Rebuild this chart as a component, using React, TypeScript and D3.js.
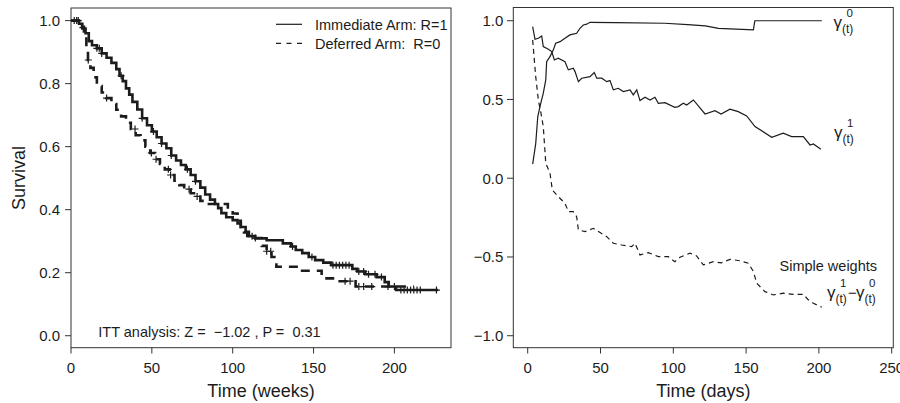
import React from "react";
import * as d3 from "d3";

// ---------- Left panel data: Kaplan-Meier curves (weeks) ----------
const immTime = [0, 5, 7, 9, 11, 13, 16, 19, 22, 25, 28, 30, 32, 34, 36, 38, 41, 44, 47, 50, 53, 56, 59, 62, 65, 68, 71, 74, 77, 80, 83, 86, 89, 91, 93, 96, 100, 103, 105, 108, 110, 114, 121, 131, 136, 139, 143, 147, 151, 156, 161, 174, 177, 182, 189, 194, 196.5, 201];
const immSurv = [1.0, 0.99, 0.975, 0.96, 0.935, 0.922, 0.912, 0.896, 0.882, 0.866, 0.846, 0.825, 0.808, 0.785, 0.765, 0.742, 0.718, 0.69, 0.668, 0.648, 0.63, 0.61, 0.595, 0.572, 0.556, 0.542, 0.528, 0.51, 0.49, 0.47, 0.448, 0.432, 0.418, 0.405, 0.389, 0.376, 0.367, 0.356, 0.345, 0.33, 0.316, 0.309, 0.303, 0.293, 0.283, 0.272, 0.262, 0.25, 0.24, 0.232, 0.224, 0.212, 0.204, 0.195, 0.186, 0.17, 0.156, 0.145];
const immEnd = 227;
const immCensor = [2, 3.5, 4.5, 16, 17.5, 19, 31, 44, 51, 56, 62, 72, 77, 112, 137, 149, 162, 164, 166, 168, 170, 172, 178, 181, 184, 188, 192, 200, 204, 206, 208, 210, 212, 214, 216, 226];

const defTime = [0, 6, 8, 9.5, 10.5, 12, 14, 16, 19, 22, 25, 28, 31, 34, 37, 40, 43, 46, 49, 52, 55, 58, 61, 64, 67, 70, 74, 77, 80, 84, 97, 100, 103, 105, 107, 109, 118, 121, 124, 127, 141, 155, 163, 176];
const defSurv = [1.0, 0.98, 0.95, 0.91, 0.875, 0.85, 0.82, 0.792, 0.772, 0.754, 0.735, 0.717, 0.696, 0.676, 0.656, 0.636, 0.62, 0.6, 0.58, 0.56, 0.545, 0.528, 0.51, 0.492, 0.478, 0.465, 0.452, 0.442, 0.428, 0.418, 0.4, 0.388, 0.365, 0.345, 0.328, 0.31, 0.285, 0.268, 0.25, 0.219, 0.206, 0.182, 0.173, 0.156];
const defEnd = 212;
const defCensor = [10.7, 22, 39.6, 49.7, 52.6, 60.2, 61.6, 73, 78, 114, 121, 123.5, 169.5, 172.6, 178, 181, 186, 196];

const leftXTicks = [0, 50, 100, 150, 200];
const leftYTicks = [0.0, 0.2, 0.4, 0.6, 0.8, 1.0];
const legendLabels = ["Immediate Arm: R=1", "Deferred Arm:  R=0"];
const ittText = "ITT analysis: Z =  \u22121.02 , P =  0.31";

// ---------- Right panel data: weights (days) ----------
const g0Time = [3.4, 5.5, 6.9, 8.4, 10.7, 12.4, 13, 15.3, 17.6, 19.2, 22.2, 25.6, 29, 33.6, 35.9, 38.2, 40.5, 42.8, 60, 94, 110, 122, 131, 155, 156, 202];
const g0Val = [0.09, 0.22, 0.39, 0.455, 0.54, 0.624, 0.74, 0.772, 0.815, 0.857, 0.867, 0.889, 0.91, 0.92, 0.952, 0.973, 0.978, 0.99, 0.988, 0.984, 0.975, 0.967, 0.952, 0.942, 1.0, 1.0];

const g1Time = [3.4, 5, 7.3, 9.6, 10.7, 14.2, 16.5, 18.3, 21, 25.6, 27.9, 31.3, 32.5, 34.8, 37.1, 42.8, 45.7, 47.4, 50.8, 54.3, 56.5, 58.8, 62.2, 65.7, 70.3, 72.5, 74.9, 77.1, 80.6, 84, 87.4, 89.7, 94.3, 101, 103.4, 106.9, 109.2, 113.8, 121.8, 128.6, 132.8, 138.9, 144.6, 150.4, 156.1, 167.6, 175.5, 181.3, 189.3, 193.9, 196.2, 201.4];
const g1Val = [0.963, 0.882, 0.889, 0.903, 0.836, 0.819, 0.804, 0.751, 0.762, 0.74, 0.688, 0.698, 0.677, 0.613, 0.635, 0.645, 0.671, 0.635, 0.635, 0.613, 0.62, 0.561, 0.571, 0.55, 0.561, 0.529, 0.561, 0.493, 0.514, 0.497, 0.514, 0.476, 0.48, 0.45, 0.455, 0.476, 0.465, 0.497, 0.408, 0.429, 0.408, 0.438, 0.423, 0.396, 0.328, 0.26, 0.286, 0.264, 0.264, 0.211, 0.218, 0.184];

const diffTime = [3.4, 5.5, 7.3, 9.1, 10.7, 12.4, 15.3, 16.9, 21, 25.6, 27.9, 31.3, 33.6, 34.8, 39.4, 45.1, 49.7, 54.3, 58.8, 64.6, 71.4, 73.7, 77.1, 82.8, 89.7, 96.6, 101, 104.6, 111.5, 116, 120.6, 127.5, 133, 139, 145.8, 151.5, 155, 157.3, 163, 168.7, 175.5, 182.4, 189.3, 192.7, 196.2, 202];
const diffVal = [0.878, 0.645, 0.497, 0.413, 0.328, 0.095, 0.032, -0.074, -0.117, -0.159, -0.212, -0.212, -0.244, -0.328, -0.339, -0.318, -0.345, -0.371, -0.413, -0.424, -0.434, -0.413, -0.487, -0.472, -0.498, -0.498, -0.53, -0.502, -0.476, -0.493, -0.55, -0.53, -0.537, -0.515, -0.524, -0.54, -0.592, -0.667, -0.72, -0.741, -0.73, -0.737, -0.737, -0.772, -0.794, -0.819];

const rightXTicks = [0, 50, 100, 150, 200, 250];
const rightYTicks = [-1.0, -0.5, 0.0, 0.5, 1.0];

const FONT = "'Liberation Sans', Arial, Helvetica, sans-serif";
const INK = "#1c1c1c";

function stepPath(times: number[], vals: number[], end: number, x: any, y: any) {
  const pts: [number, number][] = times.map((t, i) => [t, vals[i]]);
  pts.push([end, vals[vals.length - 1]]);
  return d3.line<[number, number]>().x(d => x(d[0])).y(d => y(d[1])).curve(d3.curveStepAfter)(pts) || "";
}
function stepAt(times: number[], vals: number[], t: number) {
  const i = Math.max(0, d3.bisectRight(times, t) - 1);
  return vals[i];
}
function linePath(times: number[], vals: number[], x: any, y: any) {
  const pts: [number, number][] = times.map((t, i) => [t, vals[i]]);
  return d3.line<[number, number]>().x(d => x(d[0])).y(d => y(d[1]))(pts) || "";
}

function Gamma({ x, y, sup }: { x: number; y: number; sup: string }) {
  return (
    <g fill={INK}>
      <text x={x} y={y} fontSize={17}>γ</text>
      <text x={x + 8.5} y={y + 4.5} fontSize={12}>(t)</text>
      <text x={x + 13} y={y - 11} fontSize={11.5}>{sup}</text>
    </g>
  );
}

export default function App() {
  const xL = d3.scaleLinear().domain([0, 235]).range([71, 451]);
  const yL = d3.scaleLinear().domain([-0.038, 1.04]).range([347.7, 8]);
  const xR = d3.scaleLinear().domain([-9.9, 251.1]).range([513.3, 893.3]);
  const yR = d3.scaleLinear().domain([-1.076, 1.084]).range([347.7, 7.5]);
  const fmt = d3.format(".1f");

  const immPath = stepPath(immTime, immSurv, immEnd, xL, yL);
  const defPath = stepPath(defTime, defSurv, defEnd, xL, yL);

  const cross = (cx: number, cy: number, k: string) => (
    <path key={k} d={`M${cx - 3.5},${cy}H${cx + 3.5}M${cx},${cy - 3.5}V${cy + 3.5}`} stroke={INK} strokeWidth={1.2} fill="none" />
  );

  return (
    <svg width={900} height={403} style={{ position: "absolute", left: 0, top: 0, background: "#fff" }} fontFamily={FONT}>
      {/* ---------------- Left panel ---------------- */}
      <rect x={xL(0)} y={yL(1.04)} width={xL(235) - xL(0)} height={yL(-0.038) - yL(1.04)} fill="none" stroke="#333" strokeWidth={1} />
      {leftXTicks.map(t => (
        <g key={"lx" + t}>
          <line x1={xL(t)} x2={xL(t)} y1={347.7} y2={353.5} stroke="#333" />
          <text x={xL(t)} y={372.5} fontSize={15} textAnchor="middle" fill={INK}>{t}</text>
        </g>
      ))}
      {leftYTicks.map(v => (
        <g key={"ly" + v}>
          <line x1={65} x2={71} y1={yL(v)} y2={yL(v)} stroke="#333" />
          <text x={60} y={yL(v) + 5.3} fontSize={15} textAnchor="end" fill={INK}>{fmt(v)}</text>
        </g>
      ))}
      <text x={261} y={396.5} fontSize={18} textAnchor="middle" fill={INK}>Time (weeks)</text>
      <text transform="translate(25,178) rotate(-90)" fontSize={18} textAnchor="middle" fill={INK}>Survival</text>

      <path d={defPath} fill="none" stroke={INK} strokeWidth={2.6} strokeDasharray="9,7" />
      <path d={immPath} fill="none" stroke={INK} strokeWidth={2.6} />
      {defCensor.map((t, i) => cross(xL(t), yL(stepAt(defTime, defSurv, t)), "dc" + i))}
      {immCensor.map((t, i) => cross(xL(t), yL(stepAt(immTime, immSurv, t)), "ic" + i))}

      {/* legend */}
      <line x1={276} x2={302} y1={24.3} y2={24.3} stroke={INK} strokeWidth={1.2} />
      <line x1={276} x2={302} y1={43.3} y2={43.3} stroke={INK} strokeWidth={1.2} strokeDasharray="5,5.5" />
      <text x={315} y={29.5} fontSize={14.5} fill={INK} style={{ whiteSpace: "pre" }}>{legendLabels[0]}</text>
      <text x={315} y={48.5} fontSize={14.5} fill={INK} style={{ whiteSpace: "pre" }}>{legendLabels[1]}</text>
      <text x={98.3} y={336.7} fontSize={14.5} fill={INK} style={{ whiteSpace: "pre" }}>{ittText}</text>

      {/* ---------------- Right panel ---------------- */}
      <rect x={513.3} y={7.5} width={380} height={340.2} fill="none" stroke="#333" strokeWidth={1} />
      {rightXTicks.map(t => (
        <g key={"rx" + t}>
          <line x1={xR(t)} x2={xR(t)} y1={347.7} y2={353.5} stroke="#333" />
          <text x={xR(t)} y={372.5} fontSize={15} textAnchor="middle" fill={INK}>{t}</text>
        </g>
      ))}
      {rightYTicks.map(v => (
        <g key={"ry" + v}>
          <line x1={507} x2={513.3} y1={yR(v)} y2={yR(v)} stroke="#333" />
          <text x={503.3} y={yR(v) + 5.3} fontSize={15} textAnchor="end" fill={INK}>{fmt(v)}</text>
        </g>
      ))}
      <text x={703.3} y={396.5} fontSize={18} textAnchor="middle" fill={INK}>Time (days)</text>

      <path d={linePath(g0Time, g0Val, xR, yR)} fill="none" stroke={INK} strokeWidth={1.2} />
      <path d={linePath(g1Time, g1Val, xR, yR)} fill="none" stroke={INK} strokeWidth={1.2} />
      <path d={linePath(diffTime, diffVal, xR, yR)} fill="none" stroke={INK} strokeWidth={1.2} strokeDasharray="5,4" />

      <Gamma x={833.5} y={28} sup="0" />
      <Gamma x={834} y={138} sup="1" />
      <text x={779.5} y={270.5} fontSize={14.5} fill={INK}>Simple weights</text>
      <Gamma x={827} y={298} sup="1" />
      <text x={848} y={298} fontSize={15} fill={INK}>{"\u2212"}</text>
      <Gamma x={856} y={298} sup="0" />
    </svg>
  );
}
